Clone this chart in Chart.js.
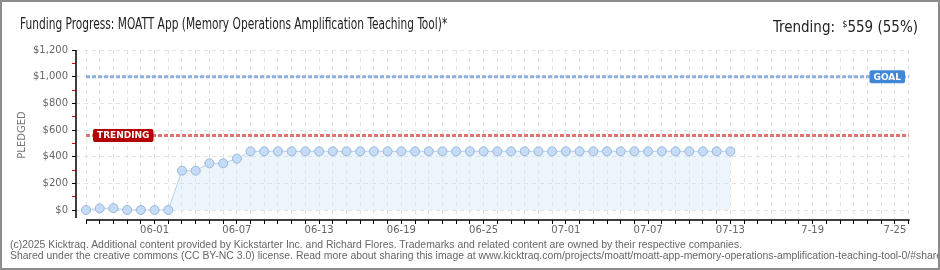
<!DOCTYPE html>
<html>
<head>
<meta charset="utf-8">
<script src="https://cdn.jsdelivr.net/npm/chart.js@4/dist/chart.umd.min.js"></script>
<style>
html, body { margin: 0; padding: 0; background: #fff; }
#frame { position: relative; width: 940px; height: 270px; overflow: hidden; background: #fff; }
#edge { position: absolute; left: 0; top: 0; width: 940px; height: 270px; box-sizing: border-box; border: 2px solid #8c8c8c; pointer-events: none; }
#chart { position: absolute; left: 0; top: 0; }
.head { position: absolute; top: 15px; font: 15px 'Liberation Sans Narrow', 'DejaVu Sans Condensed', 'Liberation Sans', sans-serif; color: #222; white-space: nowrap; line-height: 18px; }
#title { left: 20px; transform-origin: 0 0; }
#trend { right: 22px; transform-origin: 100% 0; }
#trend sup { font-size: 9px; vertical-align: 5px; margin-left: 3px; }
.foot { position: absolute; left: 10px; font: 10px 'Liberation Sans', sans-serif; color: #666; white-space: nowrap; line-height: 11px; transform-origin: 0 0; }
</style>
</head>
<body>
<div id="frame">
  <canvas id="chart" width="940" height="270"></canvas>
  <div id="title" class="head">Funding Progress: MOATT App (Memory Operations Amplification Teaching Tool)*</div>
  <div id="trend" class="head">Trending: <sup>$</sup>559 (55%)</div>
  <div id="foot1" class="foot" style="top:239px">(c)2025 Kicktraq. Additional content provided by Kickstarter Inc. and Richard Flores. Trademarks and related content are owned by their respective companies.</div>
  <div id="foot2" class="foot" style="top:250px">Shared under the creative commons (CC BY-NC 3.0) license. Read more about sharing this image at www.kicktraq.com/projects/moatt/moatt-app-memory-operations-amplification-teaching-tool-0/#share</div>
  <div id="edge"></div>
</div>
<script>
// days on the x axis: 05-27 .. 07-26
const dayCount = 61;
const xTickLabels = ['06-01', '06-07', '06-13', '06-19', '06-25', '07-01', '07-07', '07-13', '7-19', '7-25'];
const firstLabelDay = 5;
const labelEvery = 6;

// pledged total per day, starting 05-27
const pledged = [0, 12, 14, 0, 0, 0, 0, 295, 295, 350, 350, 385,
  440, 440, 440, 440, 440, 440, 440, 440, 440, 440, 440, 440,
  440, 440, 440, 440, 440, 440, 440, 440, 440, 440, 440, 440,
  440, 440, 440, 440, 440, 440, 440, 440, 440, 440, 440, 440];

const goal = 1000;
const trending = 559;
const yTicks = [0, 100, 200, 300, 400, 500, 600, 700, 800, 900, 1000, 1100, 1200];

function fitWidth(id, w)
{
    const el = document.getElementById(id);
    el.style.transform = 'scaleX(' + (w / el.scrollWidth) + ')';
}

function xLabel(v)
{
    const k = v - firstLabelDay;
    if (k < 0 || k % labelEvery !== 0) return '';
    return xTickLabels[k / labelEvery] || '';
}

function drawFlag(ctx, text, x, y, color, side)
{
    ctx.save();
    ctx.font = 'bold 9px "DejaVu Sans"';
    const w = ctx.measureText(text).width + 8;
    const h = 13;
    const left = side === 'right' ? x - w : x;
    ctx.fillStyle = color;
    ctx.beginPath();
    ctx.roundRect(left, y - h / 2, w, h, 2);
    ctx.fill();
    ctx.fillStyle = '#fff';
    ctx.textAlign = 'center';
    ctx.textBaseline = 'middle';
    ctx.fillText(text, left + w / 2, y + 0.5);
    ctx.restore();
}

// solid axis lines: y from the top value down, x between first and last day
const axes = {
    id: 'axes',
    afterDraw(chart)
    {
        const { ctx, chartArea, scales } = chart;
        ctx.save();
        ctx.strokeStyle = '#000';
        ctx.lineWidth = 1.5;
        ctx.beginPath();
        ctx.moveTo(chartArea.left, scales.y.getPixelForValue(yTicks[yTicks.length - 1]));
        ctx.lineTo(chartArea.left, chartArea.bottom - 2);
        ctx.moveTo(scales.x.getPixelForValue(0), chartArea.bottom);
        ctx.lineTo(scales.x.getPixelForValue(dayCount - 1) + 1, chartArea.bottom);
        ctx.stroke();
        ctx.restore();
    }
};

const flags = {
    id: 'flags',
    afterDatasetsDraw(chart)
    {
        const { ctx, chartArea, scales } = chart;
        drawFlag(ctx, 'GOAL', chartArea.right - 5, scales.y.getPixelForValue(goal), '#3f88d8', 'right');
        drawFlag(ctx, 'TRENDING', scales.x.getPixelForValue(0) + 7, scales.y.getPixelForValue(trending), '#b40000', 'left');
    }
};

var onload = function()
{
    fitWidth('title', 427);
    fitWidth('trend', 145);
    fitWidth('foot1', 732);
    document.getElementById('foot2').style.transform = document.getElementById('foot1').style.transform;

    const datasets = [
        {
            'label': 'Pledged',
            'data': pledged.map((v, i) => ({ 'x': i, 'y': v })),
            'borderColor': '#b5d1ef',
            'borderWidth': 1,
            'backgroundColor': 'rgba(206, 226, 248, 0.38)',
            'fill': 'origin',
            'pointRadius': 4.5,
            'pointBackgroundColor': '#c4dcf8',
            'pointBorderColor': '#9db6d6',
            'pointBorderWidth': 1,
            'tension': 0
        },
        {
            'label': 'Goal',
            'data': [{ 'x': 0, 'y': goal }, { 'x': dayCount - 1, 'y': goal }],
            'borderColor': '#8eb0de',
            'borderWidth': 3,
            'borderDash': [4, 2],
            'pointRadius': 0,
            'fill': false
        },
        {
            'label': 'Trending',
            'data': [{ 'x': 0, 'y': trending }, { 'x': dayCount - 1, 'y': trending }],
            'borderColor': '#e07272',
            'borderWidth': 3,
            'borderDash': [4, 2],
            'pointRadius': 0,
            'fill': false
        }
    ];

    const options = {
        responsive: false,
        animation: false,
        devicePixelRatio: 1,
        layout: { padding: { top: 50, right: 30, left: 0, bottom: 0 } },
        plugins: { legend: { display: false }, tooltip: { enabled: false } },
        scales: {
            x: {
                type: 'linear', min: -0.73, max: dayCount - 1 + 0.1,
                afterBuildTicks: (s) => { s.ticks = Array.from({ length: dayCount }, (_, i) => ({ value: i })); },
                afterFit: (s) => { s.height = 50; },
                grid: { color: '#e2e2e2', lineWidth: 1, tickColor: '#000', tickLength: 4 },
                border: { display: false, dash: [4, 4] },
                ticks: { autoSkip: false, maxRotation: 0, padding: 0, color: '#666', font: { family: 'DejaVu Sans', size: 10 }, callback: (v) => xLabel(v) }
            },
            y: {
                min: -75, max: 1200,
                afterBuildTicks: (s) => { s.ticks = yTicks.map((v) => ({ value: v })); },
                afterFit: (s) => { s.width = 76; },
                grid: {
                    color: (c) => (c.tick && c.tick.value % 200 === 0) ? '#e2e2e2' : 'rgba(0,0,0,0)',
                    tickColor: (c) => (c.tick && c.tick.value % 200 === 0) ? '#000' : '#e00000',
                    tickLength: 4
                },
                border: { display: false, dash: [4, 4] },
                ticks: { autoSkip: false, padding: 4, color: '#666', font: { family: 'DejaVu Sans', size: 10 }, callback: (v) => v % 200 === 0 ? '$' + v.toLocaleString('en-US') : '' },
                title: { display: true, text: 'PLEDGED', color: '#777', font: { family: 'DejaVu Sans', size: 10 }, padding: { top: 16, bottom: 0 } }
            }
        }
    };

    const graph_ctx = document.getElementById('chart').getContext('2d');
    new Chart(graph_ctx, { 'type': 'line', 'data': { 'datasets': datasets }, 'options': options, 'plugins': [flags, axes] });
}
</script>
</body>
</html>
